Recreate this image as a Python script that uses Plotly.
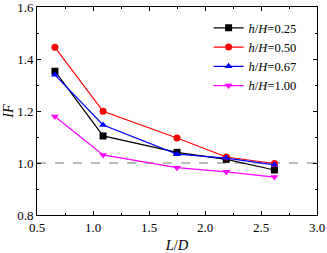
import plotly.graph_objects as go

x_ld = [0.66, 1.09, 1.75, 2.19, 2.62]
if_025 = [1.353, 1.104, 1.041, 1.014, 0.973]
if_050 = [1.445, 1.199, 1.096, 1.023, 0.998]
if_067 = [1.339, 1.146, 1.034, 1.019, 0.993]
if_100 = [1.179, 1.031, 0.982, 0.966, 0.946]
labels = ["0.25", "0.50", "0.67", "1.00"]

series = [
    (if_025, "black", "square"),
    (if_050, "red", "circle"),
    (if_067, "blue", "triangle-up"),
    (if_100, "magenta", "triangle-down"),
]

fig = go.Figure()
fig.add_shape(type="line", xref="paper", yref="y", x0=0, x1=1, y0=1.0, y1=1.0,
              line=dict(color="#777777", width=1.2, dash="dash"), layer="below")
for (vals, col, sym), lab in zip(series, labels):
    fig.add_trace(go.Scatter(
        x=x_ld, y=vals, mode="lines+markers",
        name=f"<i>h</i>/<i>H</i>={lab}",
        line=dict(color=col, width=1.2),
        marker=dict(symbol=sym, size=7, color=col),
    ))

axis_common = dict(
    showline=True, linecolor="black", linewidth=1, mirror="ticks",
    ticks="inside", ticklen=4, tickcolor="black", showgrid=False, zeroline=False,
    automargin=False, ticklabeloverflow="allow",
    tickfont=dict(family="Liberation Serif", size=13, color="black"),
)
fig.update_xaxes(range=[0.5, 3.0], dtick=0.5, tickformat=".1f",
                 minor=dict(ticks="inside", ticklen=2, dtick=0.25, tickcolor="black"),
                 title=dict(text="<i>L</i>/<i>D</i>", font=dict(family="Liberation Serif", size=14.5, color="black"), standoff=7),
                 **axis_common)
fig.update_yaxes(range=[0.8, 1.6], dtick=0.2, tickformat=".1f",
                 minor=dict(ticks="inside", ticklen=2, dtick=0.1, tickcolor="black"),
                 title=dict(text="<i>IF</i>", font=dict(family="Liberation Serif", size=14.5, color="black"), standoff=4),
                 **axis_common)
fig.update_layout(
    width=327, height=253,
    margin=dict(l=37, r=10, t=7, b=38),
    plot_bgcolor="white", paper_bgcolor="white",
    legend=dict(x=0.945, y=0.97, xanchor="right", yanchor="top",
                bgcolor="rgba(0,0,0,0)", borderwidth=0,
                font=dict(family="Liberation Serif", size=12.5, color="black"),
                tracegroupgap=0, itemwidth=30),
    showlegend=True,
)
fig.write_html("out.html", config={"displayModeBar": False},
               post_script="document.body.style.margin='0px';document.body.style.overflow='hidden';")
